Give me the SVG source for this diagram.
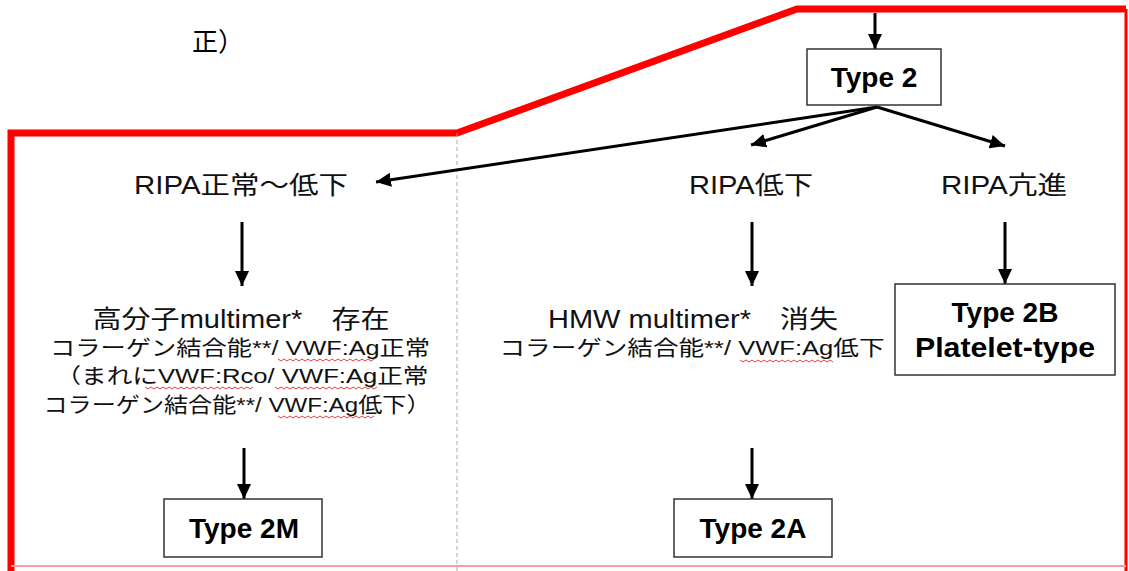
<svg xmlns="http://www.w3.org/2000/svg" width="1129" height="571" viewBox="0 0 1129 571">
  <defs>
    <marker id="arrow" markerUnits="userSpaceOnUse" markerWidth="16" markerHeight="16" viewBox="0 0 16 16" refX="15" refY="8" orient="auto">
      <path d="M0,1 L15,8 L0,15 Z" fill="#000"/>
    </marker>
    <style>
      .conn { stroke: #000; stroke-width: 3; fill: none; marker-end: url(#arrow); }
      .box { fill: #fff; stroke: #333; stroke-width: 1.5; }
      .bold { font-family: "Liberation Sans", "Noto Sans CJK JP", sans-serif; font-weight: bold; font-size: 28px; fill: #000; text-anchor: middle; }
      .lbl { font-family: "Liberation Sans", "Noto Sans CJK JP", sans-serif; font-size: 25px; fill: #111; text-anchor: middle; }
      .sub { font-family: "Liberation Sans", "Noto Sans CJK JP", sans-serif; font-size: 21px; fill: #111; text-anchor: middle; }
      .wave { fill: none; stroke: #e04040; stroke-width: 1; }
    </style>
  </defs>

  <rect width="1129" height="571" fill="#fff"/>

  <!-- heading fragment -->
  <text x="192" y="51" font-family="'Noto Sans CJK JP', sans-serif" font-size="26" fill="#000">正）</text>

  <!-- highlight frame and column divider -->
  <g id="frame">
    <path d="M11,571 V133 H457 L797,9 H1126" fill="none" stroke="#ff0000" stroke-width="7"/>
    <path d="M1126,9 V571" fill="none" stroke="#ff0000" stroke-width="3"/>
    <path d="M11,566 H1126" fill="none" stroke="#ff9a9a" stroke-width="2"/>
    <path d="M457,133 V571" fill="none" stroke="#aaa" stroke-width="1" stroke-dasharray="4 3"/>
  </g>

  <!-- connectors -->
  <g id="connectors">
    <path class="conn" d="M875,13 V49"/>
    <path class="conn" d="M877,107 L376,182"/>
    <path class="conn" d="M877,107 L751,145"/>
    <path class="conn" d="M877,107 L1005,146"/>
    <path class="conn" d="M242,222 V286"/>
    <path class="conn" d="M752,222 V286"/>
    <path class="conn" d="M1005,222 V284"/>
    <path class="conn" d="M244,448 V499"/>
    <path class="conn" d="M752,448 V499"/>
  </g>

  <g id="type2">
    <rect class="box" x="807" y="49" width="134" height="56"/>
    <text class="bold" x="874" y="87" font-size="29">Type 2</text>
  </g>

  <g id="ripa-normal-low">
    <text class="lbl" x="241" y="194" textLength="214" lengthAdjust="spacingAndGlyphs">RIPA正常～低下</text>
  </g>

  <g id="ripa-low">
    <text class="lbl" x="751" y="194" textLength="124" lengthAdjust="spacingAndGlyphs">RIPA低下</text>
  </g>

  <g id="ripa-high">
    <text class="lbl" x="1004" y="194" textLength="126" lengthAdjust="spacingAndGlyphs">RIPA亢進</text>
  </g>

  <g id="findings-2m">
    <text class="lbl" x="241" y="328" textLength="297" lengthAdjust="spacingAndGlyphs">高分子multimer*　存在</text>
    <text class="sub" x="240" y="355" textLength="380" lengthAdjust="spacingAndGlyphs">コラーゲン結合能**/ VWF:Ag正常</text>
    <text class="sub" x="242" y="383" textLength="373" lengthAdjust="spacingAndGlyphs">（まれにVWF:Rco/ VWF:Ag正常</text>
    <text class="sub" x="237" y="412" textLength="387" lengthAdjust="spacingAndGlyphs">コラーゲン結合能**/ VWF:Ag低下）</text>
    <path class="wave" d="M278,359 l3,2 l3,-2 l3,2 l3,-2 l3,2 l3,-2 l3,2 l3,-2 l3,2 l3,-2 l3,2 l3,-2 l3,2 l3,-2 l3,2 l3,-2 l3,2 l3,-2 l3,2 l3,-2 l3,2 l3,-2 l3,2 l3,-2 l3,2 l3,-2 l3,2 l3,-2 l3,2 l3,-2 l3,2 l3,-2"/>
    <path class="wave" d="M145,387 l3,2 l3,-2 l3,2 l3,-2 l3,2 l3,-2 l3,2 l3,-2 l3,2 l3,-2 l3,2 l3,-2 l3,2 l3,-2 l3,2 l3,-2 l3,2 l3,-2 l3,2 l3,-2 l3,2 l3,-2 l3,2 l3,-2 l3,2 l3,-2 l3,2 l3,-2 l3,2 l3,-2 l3,2 l3,-2 l3,2 l3,-2 l3,2 l3,-2"/>
    <path class="wave" d="M275,387 l3,2 l3,-2 l3,2 l3,-2 l3,2 l3,-2 l3,2 l3,-2 l3,2 l3,-2 l3,2 l3,-2 l3,2 l3,-2 l3,2 l3,-2 l3,2 l3,-2 l3,2 l3,-2 l3,2 l3,-2 l3,2 l3,-2 l3,2 l3,-2 l3,2 l3,-2 l3,2 l3,-2 l3,2 l3,-2 l3,2 l3,-2"/>
    <path class="wave" d="M278,416 l3,2 l3,-2 l3,2 l3,-2 l3,2 l3,-2 l3,2 l3,-2 l3,2 l3,-2 l3,2 l3,-2 l3,2 l3,-2 l3,2 l3,-2 l3,2 l3,-2 l3,2 l3,-2 l3,2 l3,-2 l3,2 l3,-2 l3,2 l3,-2 l3,2 l3,-2 l3,2 l3,-2 l3,2 l3,-2"/>
  </g>

  <g id="findings-2a">
    <text class="lbl" x="693" y="328" textLength="290" lengthAdjust="spacingAndGlyphs">HMW multimer*　消失</text>
    <text class="sub" x="692" y="355" textLength="385" lengthAdjust="spacingAndGlyphs">コラーゲン結合能**/ VWF:Ag低下</text>
    <path class="wave" d="M740,360 l3,2 l3,-2 l3,2 l3,-2 l3,2 l3,-2 l3,2 l3,-2 l3,2 l3,-2 l3,2 l3,-2 l3,2 l3,-2 l3,2 l3,-2 l3,2 l3,-2 l3,2 l3,-2 l3,2 l3,-2 l3,2 l3,-2 l3,2 l3,-2 l3,2 l3,-2 l3,2 l3,-2 l3,2"/>
  </g>

  <g id="type2b">
    <rect class="box" x="895" y="284" width="220" height="91"/>
    <text class="bold" x="1005" y="322" font-size="29">Type 2B</text>
    <text class="bold" x="1005" y="357" font-size="29" textLength="180" lengthAdjust="spacingAndGlyphs">Platelet-type</text>
  </g>

  <g id="type2m">
    <rect class="box" x="164" y="499" width="158" height="58"/>
    <text class="bold" x="244" y="538" font-size="29">Type 2M</text>
  </g>

  <g id="type2a">
    <rect class="box" x="674" y="499" width="158" height="58"/>
    <text class="bold" x="753" y="538" font-size="29">Type 2A</text>
  </g>
</svg>
